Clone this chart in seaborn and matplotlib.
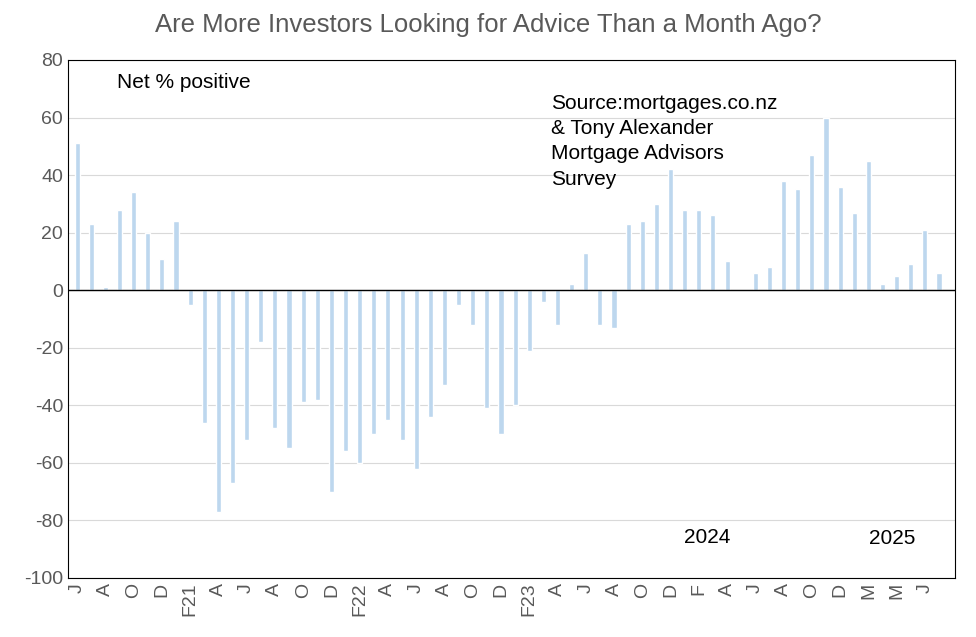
# investor advice survey chart
import seaborn as sns
import matplotlib.pyplot as plt
import pandas as pd

# monthly net % positive, Jun 2020 onward
values = [51, 23, 1, 28, 34, 20, 11, 24, -5, -46, -77, -67, -52, -18, -48, -55,
          -39, -38, -70, -56, -60, -50, -45, -52, -62, -44, -33, -5, -12, -41,
          -50, -40, -21, -4, -12, 2, 13, -12, -13, 23, 24, 30, 42, 28, 28, 26,
          10, 0, 6, 8, 38, 35, 47, 60, 36, 27, 45, 2, 5, 9, 21, 6]
tick_labels = ['J', 'A', 'O', 'D', 'F21', 'A', 'J', 'A', 'O', 'D', 'F22', 'A',
               'J', 'A', 'O', 'D', 'F23', 'A', 'J', 'A', 'O', 'D', 'F', 'A',
               'J', 'A', 'O', 'D', 'M', 'M', 'J']

df = pd.DataFrame({'month': range(len(values)), 'net': values})

sns.set_style('white')
plt.rcParams['font.family'] = ['Liberation Sans', 'DejaVu Sans']
plt.rcParams['axes.unicode_minus'] = False

fig = plt.figure(figsize=(9.76, 6.37), dpi=100)
ax = fig.add_axes([68/976, 1 - 578/637, 887/976, 518/637])
sns.barplot(data=df, x='month', y='net', color='#bdd7ee', saturation=1,
            width=0.36, ax=ax)

ax.set_ylim(-100, 80)
ax.set_yticks(range(-100, 81, 20))
ax.set_xlim(-0.64, len(values) + 0.13)
ax.set_xticks(range(0, len(values), 2))
ax.set_xticklabels(tick_labels, rotation=90, color='#595959', fontsize=14)
ax.tick_params(axis='y', labelsize=14, labelcolor='#595959', length=0)
ax.tick_params(axis='x', length=0)
ax.yaxis.grid(True, color='#d9d9d9', linewidth=0.8)
ax.set_axisbelow(True)
ax.axhline(0, color='black', linewidth=1)
for s in ax.spines.values():
    s.set_color('black')
    s.set_linewidth(0.8)
ax.set_xlabel('')
ax.set_ylabel('')

fig.text(0.5, 1 - 25/637, 'Are More Investors Looking for Advice Than a Month Ago?',
         ha='center', va='center', fontsize=18.5, color='#595959')
ax.text(0.055, 0.975, 'Net % positive', transform=ax.transAxes, fontsize=15,
        va='top', color='black')
ax.text(0.545, 0.935, 'Source:mortgages.co.nz\n& Tony Alexander\nMortgage Advisors\nSurvey',
        transform=ax.transAxes, fontsize=15, va='top', linespacing=1.42,
        color='black')
ax.text(0.694, 0.068, '2024', transform=ax.transAxes, fontsize=15, color='black')
ax.text(0.903, 0.065, '2025', transform=ax.transAxes, fontsize=15, color='black')

plt.savefig('out.png', dpi=100)
